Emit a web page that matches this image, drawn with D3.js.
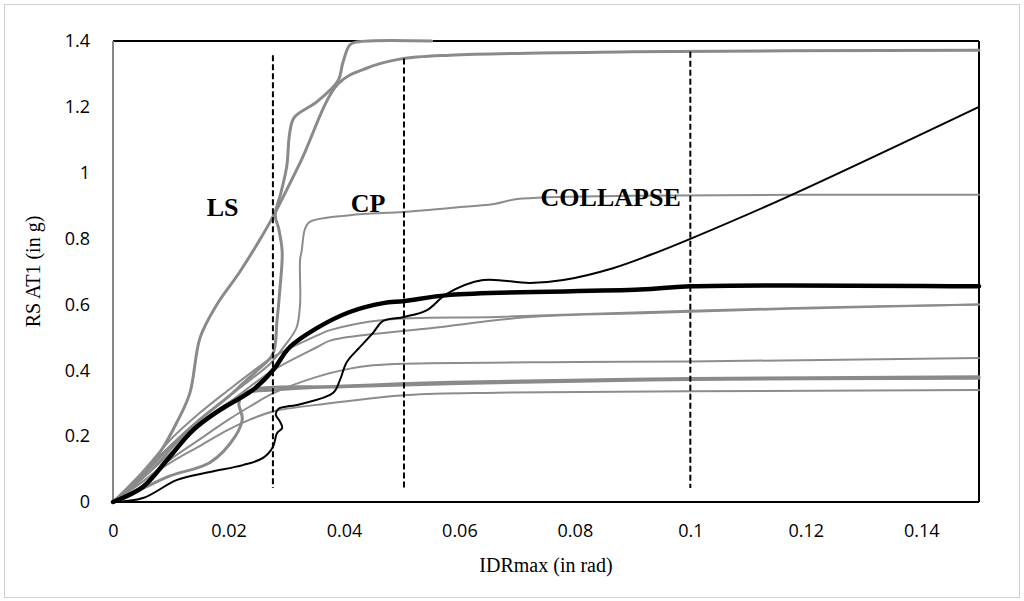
<html>
<head>
  <script src="https://d3js.org/d3.v7.min.js"></script>
  <style>
    body { margin: 0; background: white; }
    .tick text { font-family: "Open Sans", "Noto Sans", sans-serif; font-size: 18px; fill: #000; }
    .axis-title { font-family: "Liberation Serif", "DejaVu Serif", serif; font-size: 20px; fill: #000; }
    .phase-label { font-family: "Liberation Serif", serif; font-weight: bold; font-size: 26px; fill: #000; }
  </style>
</head>
<body>
<svg id="chart" width="1024" height="601"></svg>
<script>
// axis ticks
const xTicks = [0, 0.02, 0.04, 0.06, 0.08, 0.1, 0.12, 0.14];
const yTicks = [0, 0.2, 0.4, 0.6, 0.8, 1, 1.2, 1.4];

// performance limits (vertical dashed lines)
const limitNames = ["LS", "CP", "COLLAPSE"];
const limitX = [0.0277, 0.0504, 0.1];
const limitTops = [1.357, 1.347, 1.367];
const limitLabelX = [0.019, 0.0442, 0.0862];
const limitLabelY = [0.896, 0.908, 0.926];

// IDA curves, [IDRmax, RS AT1]
const curveC = [[0,0],[0.004,0.06],[0.0081,0.15],[0.011,0.24],[0.0133,0.33],[0.0151,0.5],[0.018,0.6],[0.022,0.7],[0.0272,0.85],[0.0324,1.03],[0.039,1.27],[0.044,1.318],[0.0497,1.345],[0.0584,1.357],[0.09,1.367],[0.15,1.372]];
const curveD = [[0,0],[0.005,0.08],[0.01,0.17],[0.015,0.25],[0.02,0.32],[0.0225,0.36],[0.025,0.4],[0.0277,0.45],[0.0284,0.55],[0.0289,0.644],[0.0293,0.76],[0.0287,0.83],[0.0281,0.87],[0.0291,0.94],[0.0301,1.02],[0.0306,1.12],[0.0314,1.168],[0.0353,1.215],[0.039,1.28],[0.0398,1.333],[0.041,1.388],[0.0422,1.397],[0.0552,1.4]];
const curveE = [[0,0],[0.005,0.07],[0.01,0.16],[0.015,0.25],[0.02,0.32],[0.0237,0.37],[0.0272,0.42],[0.0301,0.483],[0.0318,0.53],[0.0324,0.6],[0.0324,0.735],[0.0327,0.765],[0.0332,0.826],[0.034,0.85],[0.041,0.871],[0.0503,0.881],[0.0584,0.893],[0.066,0.905],[0.07,0.92],[0.09,0.93],[0.15,0.933]];
const curveF = [[0,0],[0.005,0.09],[0.01,0.19],[0.015,0.27],[0.02,0.34],[0.0237,0.39],[0.0277,0.44],[0.0353,0.505],[0.0376,0.522],[0.0468,0.553],[0.0665,0.562],[0.093,0.577],[0.12,0.59],[0.15,0.6]];
const curveG = [[0,0],[0.005,0.07],[0.01,0.15],[0.015,0.23],[0.02,0.3],[0.0237,0.35],[0.0277,0.4],[0.0353,0.47],[0.0376,0.49],[0.045,0.51],[0.055,0.528],[0.0722,0.562],[0.093,0.574],[0.12,0.588],[0.15,0.6]];
const curveH = [[0,0],[0.005,0.06],[0.01,0.13],[0.015,0.19],[0.02,0.25],[0.0237,0.29],[0.0277,0.33],[0.0353,0.38],[0.041,0.405],[0.045,0.415],[0.0504,0.42],[0.08,0.425],[0.1,0.427],[0.15,0.437]];
const curveI = [[0,0],[0.005,0.08],[0.01,0.17],[0.015,0.24],[0.02,0.3],[0.0237,0.334],[0.0277,0.34],[0.04,0.352],[0.0584,0.364],[0.1,0.375],[0.15,0.38]];
const curveJ = [[0,0],[0.005,0.04],[0.01,0.08],[0.0168,0.12],[0.0212,0.2],[0.0224,0.253],[0.0218,0.3],[0.0228,0.33],[0.0254,0.345],[0.04,0.35],[0.06,0.36],[0.1,0.372],[0.15,0.376]];
const curveK = [[0,0],[0.005,0.06],[0.01,0.12],[0.015,0.17],[0.02,0.22],[0.0237,0.25],[0.0277,0.275],[0.0376,0.3],[0.051,0.325],[0.0665,0.332],[0.1,0.336],[0.15,0.34]];
const curveB = [[0,0],[0.0052,0.012],[0.0111,0.067],[0.0168,0.091],[0.0225,0.112],[0.026,0.134],[0.0277,0.167],[0.0284,0.209],[0.0293,0.225],[0.0289,0.245],[0.0282,0.265],[0.0286,0.282],[0.0324,0.297],[0.0381,0.331],[0.0393,0.37],[0.0405,0.425],[0.0428,0.471],[0.045,0.513],[0.0468,0.55],[0.0504,0.562],[0.0544,0.583],[0.0578,0.632],[0.0641,0.674],[0.0722,0.665],[0.078,0.674],[0.0866,0.71],[0.093,0.75],[0.1001,0.8],[0.1167,0.926],[0.15,1.2]];
const curveA = [[0,0],[0.0052,0.046],[0.0094,0.128],[0.0139,0.219],[0.0185,0.279],[0.0242,0.34],[0.0277,0.4],[0.0306,0.47],[0.0353,0.528],[0.041,0.577],[0.0468,0.604],[0.0504,0.61],[0.0584,0.629],[0.0913,0.645],[0.1,0.655],[0.15,0.655]];

const grayThin = [curveE, curveF, curveG, curveH, curveK];
const grayThick = [curveC, curveD, curveI, curveJ];

const svg = d3.select("#chart");
const margin = { top: 41, right: 45, bottom: 99, left: 113 };
const width = +svg.attr("width");
const height = +svg.attr("height");

const x = d3.scaleLinear().domain([0, 0.15]).range([margin.left, width - margin.right]);
const y = d3.scaleLinear().domain([0, 1.4]).range([height - margin.bottom, margin.top]);

// chart border
svg.append("rect")
  .attr("x", 4.5).attr("y", 4.5)
  .attr("width", width - 9).attr("height", height - 8)
  .attr("fill", "white").attr("stroke", "#d0d0d0");

// plot frame
svg.append("line").attr("x1", x(0)).attr("x2", x(0.15)).attr("y1", y(1.4)).attr("y2", y(1.4))
  .attr("stroke", "#000").attr("stroke-width", 2);
svg.append("line").attr("x1", x(0.15)).attr("x2", x(0.15)).attr("y1", y(1.4)).attr("y2", y(0))
  .attr("stroke", "#000").attr("stroke-width", 2);
svg.append("line").attr("x1", x(0)).attr("x2", x(0)).attr("y1", y(1.4)).attr("y2", y(0))
  .attr("stroke", "#868686").attr("stroke-width", 2);

// axes
const fmt = d => String(+d.toFixed(2));
svg.append("g").attr("class", "x axis")
  .attr("transform", `translate(0,${y(0)})`)
  .call(d3.axisBottom(x).tickValues(xTicks).tickSize(0).tickPadding(22).tickFormat(fmt))
  .call(g => g.select(".domain").remove());
svg.append("g").attr("class", "y axis")
  .attr("transform", `translate(${x(0)},0)`)
  .call(d3.axisLeft(y).tickValues(yTicks).tickSize(0).tickPadding(23).tickFormat(fmt))
  .call(g => g.select(".domain").remove());

svg.append("text").attr("class", "axis-title")
  .attr("x", (x(0) + x(0.15)) / 2).attr("y", 572)
  .attr("text-anchor", "middle")
  .text("IDRmax (in rad)");
svg.append("text").attr("class", "axis-title")
  .attr("transform", `translate(40,${(y(0) + y(1.4)) / 2}) rotate(-90)`)
  .attr("text-anchor", "middle")
  .text("RS AT1 (in g)");

// curves
const line = d3.line().x(d => x(d[0])).y(d => y(d[1])).curve(d3.curveCatmullRom.alpha(0.5));
const curves = svg.append("g").attr("fill", "none").attr("stroke-linejoin", "round").attr("stroke-linecap", "round");

curves.selectAll("path.gray-thin").data(grayThin).join("path")
  .attr("class", "gray-thin").attr("d", line)
  .attr("stroke", "#8c8c8c").attr("stroke-width", 2);
curves.selectAll("path.gray-thick").data(grayThick).join("path")
  .attr("class", "gray-thick").attr("d", line)
  .attr("stroke", "#8a8a8a").attr("stroke-width", 3);
curves.append("path").datum(curveB).attr("d", line)
  .attr("stroke", "#000").attr("stroke-width", 2);
curves.append("path").datum(curveA).attr("d", line)
  .attr("stroke", "#000").attr("stroke-width", 4.5);

// bottom axis line over the curves
svg.append("line").attr("x1", x(0)).attr("x2", x(0.15)).attr("y1", y(0)).attr("y2", y(0))
  .attr("stroke", "#000").attr("stroke-width", 2);

// limit state lines and labels
svg.selectAll("line.limit").data(limitX).join("line")
  .attr("class", "limit")
  .attr("x1", d => x(d)).attr("x2", d => x(d))
  .attr("y1", (d, i) => y(limitTops[i])).attr("y2", y(0.0425))
  .attr("stroke", "#000").attr("stroke-width", 2).attr("stroke-dasharray", "6,3");

svg.selectAll("text.phase-label").data(limitNames).join("text")
  .attr("class", "phase-label")
  .attr("x", (d, i) => x(limitLabelX[i]))
  .attr("y", (d, i) => y(limitLabelY[i]))
  .attr("dy", "0.35em")
  .attr("text-anchor", "middle")
  .text(d => d);
</script>
</body>
</html>
